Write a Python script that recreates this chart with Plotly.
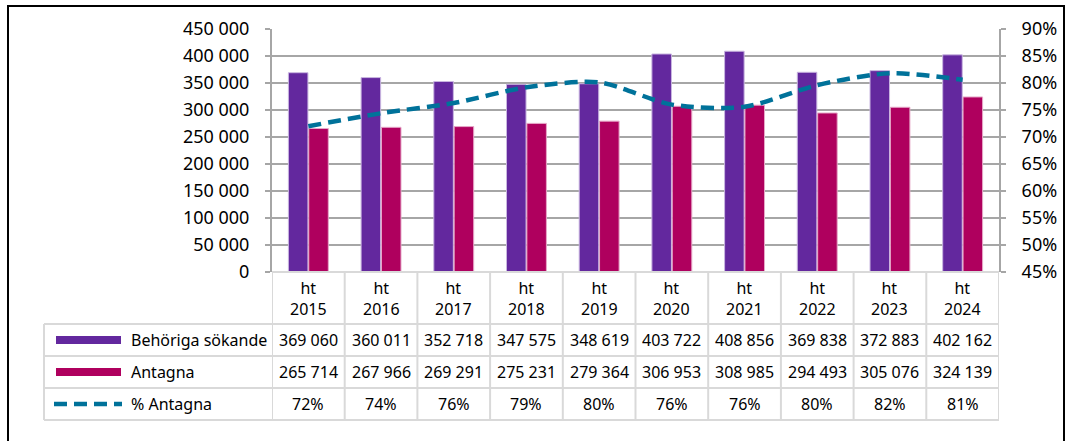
import plotly.graph_objects as go

years = ["2015", "2016", "2017", "2018", "2019", "2020", "2021", "2022", "2023", "2024"]
behoriga = [369060, 360011, 352718, 347575, 348619, 403722, 408856, 369838, 372883, 402162]
antagna = [265714, 267966, 269291, 275231, 279364, 306953, 308985, 294493, 305076, 324139]
pct_line = [0.720, 0.744, 0.763, 0.792, 0.801, 0.760, 0.756, 0.796, 0.818, 0.806]
pct_labels = ["72%", "74%", "76%", "79%", "80%", "76%", "76%", "80%", "82%", "81%"]
beh_labels = ["369 060", "360 011", "352 718", "347 575", "348 619", "403 722", "408 856", "369 838", "372 883", "402 162"]
ant_labels = ["265 714", "267 966", "269 291", "275 231", "279 364", "306 953", "308 985", "294 493", "305 076", "324 139"]
series_names = ["Behöriga sökande", "Antagna", "% Antagna"]

W, H = 1069, 441
PURPLE = "#63289E"
PINK = "#AF005E"
TEAL = "#00729A"
GRID = "#A6A6A6"
TBL = "#D9D9D9"
FONT = "Noto Sans"
DASH = "13px,7px"

def px(x):
    return x / W

def py(y):
    return 1 - y / H

xs = list(range(len(years)))

fig = go.Figure()
fig.add_trace(go.Bar(x=xs, y=behoriga, name=series_names[0], marker=dict(color=PURPLE, line=dict(color="#C9B6E0", width=1))))
fig.add_trace(go.Bar(x=xs, y=antagna, name=series_names[1], marker=dict(color=PINK, line=dict(color="#E6A8C8", width=1))))
fig.add_trace(go.Scatter(x=xs, y=pct_line, name=series_names[2], yaxis="y2", mode="lines",
                         line=dict(color=TEAL, width=4.5, dash=DASH, shape="spline", smoothing=0.8)))

x_left, x_right = 272, 999
y_top, y_zero = 29, 272

shapes = []
annotations = []

# outer frame
shapes.append(dict(type="rect", xref="paper", yref="paper", x0=px(8), x1=px(1064), y0=py(446), y1=py(6),
                   line=dict(color="black", width=2), fillcolor="rgba(0,0,0,0)", layer="above"))

# table horizontal lines
row_ys = [324, 356, 388, 420]
for ry in row_ys:
    shapes.append(dict(type="line", xref="paper", yref="paper", x0=px(44), x1=px(x_right), y0=py(ry), y1=py(ry),
                       line=dict(color=TBL, width=2)))
# left table border
shapes.append(dict(type="line", xref="paper", yref="paper", x0=px(44), x1=px(44), y0=py(324), y1=py(420),
                   line=dict(color=TBL, width=2)))
# vertical table lines at category boundaries
for i in range(len(years) + 1):
    shapes.append(dict(type="line", xref="x", yref="paper", x0=i - 0.5, x1=i - 0.5, y0=py(273), y1=py(420),
                       line=dict(color=TBL, width=2)))

# header + cell text
row_centers = [340, 372, 404]
cell_rows = [beh_labels, ant_labels, pct_labels]
for i, yr in enumerate(years):
    annotations.append(dict(x=i, y=py(298), xref="x", yref="paper", text="ht<br>" + yr, showarrow=False,
                            font=dict(size=16, color="black", family=FONT), xanchor="center", yanchor="middle"))
    for r, row in enumerate(cell_rows):
        annotations.append(dict(x=i, y=py(row_centers[r]), xref="x", yref="paper", text=row[i], showarrow=False,
                                font=dict(size=16, color="black", family=FONT), xanchor="center", yanchor="middle"))

# legend keys in table
shapes.append(dict(type="rect", xref="paper", yref="paper", x0=px(56), x1=px(121), y0=py(336), y1=py(344),
                   fillcolor=PURPLE, line=dict(width=0)))
shapes.append(dict(type="rect", xref="paper", yref="paper", x0=px(56), x1=px(121), y0=py(368), y1=py(376),
                   fillcolor=PINK, line=dict(width=0)))
shapes.append(dict(type="line", xref="paper", yref="paper", x0=px(54), x1=px(122), y0=py(404), y1=py(404),
                   line=dict(color=TEAL, width=4.5, dash=DASH)))
for r, name in enumerate(series_names):
    annotations.append(dict(x=px(129), y=py(row_centers[r]), xref="paper", yref="paper", text=name, showarrow=False,
                            font=dict(size=16, color="black", family=FONT), xanchor="left", yanchor="middle"))

fig.update_layout(
    width=W, height=H,
    margin=dict(l=0, r=0, t=0, b=0, pad=0, autoexpand=False),
    paper_bgcolor="white", plot_bgcolor="white",
    separators=", ",
    showlegend=False,
    barmode="group", bargap=0.44, bargroupgap=0.04,
    font=dict(family=FONT, size=18, color="black"),
    xaxis=dict(domain=[px(x_left), px(x_right)], range=[-0.5, 9.5], showticklabels=False, showgrid=False,
               zeroline=False, showline=False, ticks="", automargin=False),
    yaxis=dict(domain=[py(y_zero), py(y_top)], range=[0, 450000], dtick=50000, tickformat=",d",
               showgrid=True, gridcolor=GRID, gridwidth=2, zeroline=False, automargin=False,
               showline=True, linecolor=GRID, linewidth=2, ticks="outside", ticklen=5, tickcolor=GRID, tickwidth=2,
               ticklabelstandoff=12, tickfont=dict(size=18)),
    yaxis2=dict(domain=[py(y_zero), py(y_top)], range=[0.45, 0.90], dtick=0.05, tickformat=".0%",
                overlaying="y", side="right", showgrid=False, zeroline=False, automargin=False,
                showline=True, linecolor=GRID, linewidth=2, ticks="outside", ticklen=5, tickcolor=GRID, tickwidth=2,
                ticklabelstandoff=12, tickfont=dict(size=18)),
    shapes=shapes,
    annotations=annotations,
)

# zero axis line at bottom of plot
fig.add_shape(type="line", xref="paper", yref="paper", x0=px(x_left), x1=px(x_right), y0=py(y_zero), y1=py(y_zero),
              line=dict(color=TBL, width=2))

fig.write_html("out.html", config={"displayModeBar": False},
               post_script="document.body.style.margin='0';document.body.style.overflow='hidden';")
